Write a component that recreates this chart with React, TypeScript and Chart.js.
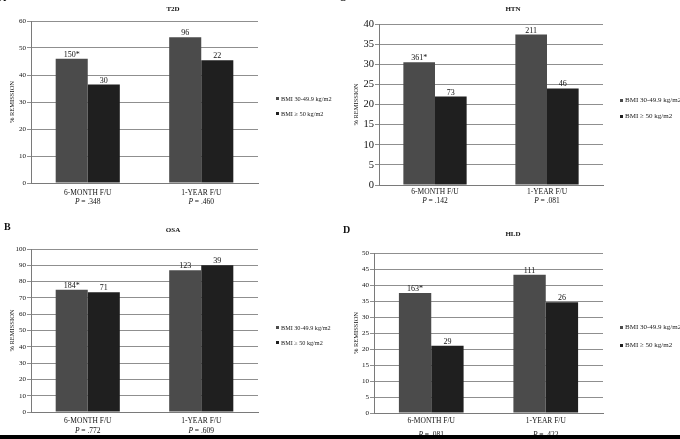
import { useEffect, useRef } from "react"
import { Chart, registerables } from "chart.js"

Chart.register(...registerables)

const categories = ["6-MONTH F/U", "1-YEAR F/U"]
const seriesNames = ["BMI 30-49.9 kg/m2", "BMI \u2265 50 kg/m2"]

const t2dLow = [46, 54]
const t2dHigh = [36.5, 45.5]
const t2dLowN = ["150*", "96"]
const t2dHighN = ["30", "22"]
const t2dP = [".348", ".460"]

const htnLow = [30.5, 37.4]
const htnHigh = [22, 24]
const htnLowN = ["361*", "211"]
const htnHighN = ["73", "46"]
const htnP = [".142", ".081"]

const osaLow = [75, 87]
const osaHigh = [73.5, 90]
const osaLowN = ["184*", "123"]
const osaHighN = ["71", "39"]
const osaP = [".772", ".609"]

const hldLow = [37.5, 43.2]
const hldHigh = [21, 34.6]
const hldLowN = ["163*", "111"]
const hldHighN = ["29", "26"]
const hldP = [".081", ".422"]

const SERIF = "'Liberation Serif', 'Times New Roman', serif"
const LOW_COLOR = "#4b4b4b"
const HIGH_COLOR = "#1f1f1f"

interface PanelProps {
  left: number
  top: number
  width: number
  height: number
  plot: { l: number; r: number; t: number; b: number }
  max: number
  step: number
  tickSize: number
  catPad: number
  pY: number
  titlePad: number
  low: number[]
  high: number[]
  lowN: string[]
  highN: string[]
  pValues: string[]
}

function Panel(props: PanelProps) {
  const chartRef = useRef<HTMLCanvasElement>(null)
  const chartInstance = useRef<Chart | null>(null)

  useEffect(() => {
    if (!chartRef.current) return
    if (chartInstance.current) chartInstance.current.destroy()
    const ctx = chartRef.current.getContext("2d")
    if (!ctx) return

    const counts = [props.lowN, props.highN]

    const labelPlugin = {
      id: "barLabels",
      afterDatasetsDraw(chart: Chart) {
        const c = chart.ctx
        c.save()
        c.font = `8px ${SERIF}`
        c.fillStyle = "#111"
        c.textAlign = "center"
        c.textBaseline = "bottom"
        chart.data.datasets.forEach((_, di) => {
          const meta = chart.getDatasetMeta(di)
          meta.data.forEach((bar: any, i: number) => {
            c.fillText(counts[di][i], bar.x, bar.y)
          })
        })
        // p-values under the category labels
        const xs = chart.scales.x
        c.textAlign = "left"
        c.textBaseline = "middle"
        props.pValues.forEach((p, i) => {
          const cx = xs.getPixelForValue(i)
          c.font = `italic 7.5px ${SERIF}`
          const w1 = c.measureText("P").width
          c.font = `7.5px ${SERIF}`
          const rest = " = " + p
          const w2 = c.measureText(rest).width
          const x0 = cx - (w1 + w2) / 2
          c.font = `italic 7.5px ${SERIF}`
          c.fillText("P", x0, props.pY)
          c.font = `7.5px ${SERIF}`
          c.fillText(rest, x0 + w1, props.pY)
        })
        c.restore()
      },
    }

    chartInstance.current = new Chart(ctx, {
      type: "bar",
      data: {
        labels: categories,
        datasets: [
          {
            label: seriesNames[0],
            data: props.low,
            backgroundColor: LOW_COLOR,
            categoryPercentage: 0.565,
            barPercentage: 1,
          },
          {
            label: seriesNames[1],
            data: props.high,
            backgroundColor: HIGH_COLOR,
            categoryPercentage: 0.565,
            barPercentage: 1,
          },
        ],
      },
      options: {
        responsive: false,
        animation: false,
        layout: {
          padding: {
            left: 0,
            top: props.plot.t,
            right: props.width - props.plot.r,
            bottom: 0,
          },
        },
        plugins: {
          legend: { display: false },
          tooltip: { enabled: false },
        },
        scales: {
          x: {
            grid: { display: false, drawTicks: false },
            border: { display: true, color: "#7a7a7a" },
            ticks: {
              padding: props.catPad,
              color: "#111",
              font: { family: SERIF, size: 7.5 },
            },
            afterFit(scale: any) {
              scale.height = props.height - props.plot.b
            },
          },
          y: {
            min: 0,
            max: props.max,
            grid: { color: "#8f8f8f", tickLength: 4 },
            border: { display: true, color: "#7a7a7a" },
            ticks: {
              stepSize: props.step,
              padding: 1,
              color: "#111",
              font: { family: SERIF, size: props.tickSize },
            },
            title: {
              display: true,
              text: "% REMISSION",
              color: "#111",
              font: { family: SERIF, size: 6.5 },
              padding: { top: props.titlePad, bottom: 0 },
            },
            afterFit(scale: any) {
              scale.width = props.plot.l
            },
          },
        },
      },
      plugins: [labelPlugin],
    })

    return () => {
      if (chartInstance.current) {
        chartInstance.current.destroy()
        chartInstance.current = null
      }
    }
  }, [props])

  return (
    <div
      style={{
        position: "absolute",
        left: props.left,
        top: props.top,
        width: props.width,
        height: props.height,
      }}
    >
      <canvas ref={chartRef} width={props.width} height={props.height}></canvas>
    </div>
  )
}

function Legend({ left, top, gap, size }: { left: number; top: number; gap: number; size: number }) {
  const colors = [LOW_COLOR, HIGH_COLOR]
  return (
    <div style={{ position: "absolute", left, top, fontFamily: SERIF, fontSize: size, color: "#222", whiteSpace: "nowrap" }}>
      {seriesNames.map((n, i) => (
        <div key={n} style={{ position: "absolute", left: 0, top: i * gap, display: "flex", alignItems: "center", lineHeight: "9px" }}>
          <span style={{ display: "inline-block", width: 3, height: 3, background: colors[i], marginRight: 2 }} />
          {n}
        </div>
      ))}
    </div>
  )
}

const textStyle = (left: number, top: number, size: number, bold: boolean): React.CSSProperties => ({
  position: "absolute",
  left,
  top,
  fontFamily: SERIF,
  fontSize: size,
  fontWeight: bold ? "bold" : "normal",
  color: "#111",
  lineHeight: 1,
  whiteSpace: "nowrap",
})

const panelA = { left: 0, top: 0, width: 340, height: 220, plot: { l: 31, r: 258, t: 21, b: 183 }, max: 60, step: 10, tickSize: 7, catPad: 6, pY: 202, titlePad: 8, low: t2dLow, high: t2dHigh, lowN: t2dLowN, highN: t2dHighN, pValues: t2dP }
const panelC = { left: 340, top: 0, width: 340, height: 220, plot: { l: 39, r: 263, t: 24, b: 185 }, max: 40, step: 5, tickSize: 10.5, catPad: 3, pY: 201, titlePad: 12, low: htnLow, high: htnHigh, lowN: htnLowN, highN: htnHighN, pValues: htnP }
const panelB = { left: 0, top: 220, width: 340, height: 219, plot: { l: 31, r: 258, t: 29, b: 192 }, max: 100, step: 10, tickSize: 7, catPad: 5, pY: 211, titlePad: 8, low: osaLow, high: osaHigh, lowN: osaLowN, highN: osaHighN, pValues: osaP }
const panelD = { left: 340, top: 220, width: 340, height: 219, plot: { l: 34, r: 263, t: 33, b: 193 }, max: 50, step: 5, tickSize: 7, catPad: 4, pY: 215, titlePad: 12, low: hldLow, high: hldHigh, lowN: hldLowN, highN: hldHighN, pValues: hldP }

export default function App() {
  return (
    <div style={{ position: "absolute", left: 0, top: 0, width: 680, height: 439, background: "#fff", overflow: "hidden" }}>
      <Panel {...panelA} />
      <Panel {...panelC} />
      <Panel {...panelB} />
      <Panel {...panelD} />

      <div style={textStyle(-1, -7, 10, true)}>A</div>
      <div style={textStyle(339, -7, 10, true)}>C</div>
      <div style={textStyle(4, 222, 10, true)}>B</div>
      <div style={textStyle(343, 225, 10, true)}>D</div>

      <div style={{ ...textStyle(165, 6, 7, true), width: 16, textAlign: "center" }}>T2D</div>
      <div style={{ ...textStyle(505, 6, 7, true), width: 16, textAlign: "center" }}>HTN</div>
      <div style={{ ...textStyle(165, 227, 7, true), width: 16, textAlign: "center" }}>OSA</div>
      <div style={{ ...textStyle(505, 231, 7, true), width: 16, textAlign: "center" }}>HLD</div>

      <Legend left={276} top={94} gap={15} size={6.3} />
      <Legend left={620} top={96} gap={16} size={7} />
      <Legend left={276} top={323} gap={15} size={6.2} />
      <Legend left={620} top={323} gap={18} size={7} />

      <div style={{ position: "absolute", left: 0, top: 435, width: 680, height: 4, background: "#000" }} />
    </div>
  )
}
